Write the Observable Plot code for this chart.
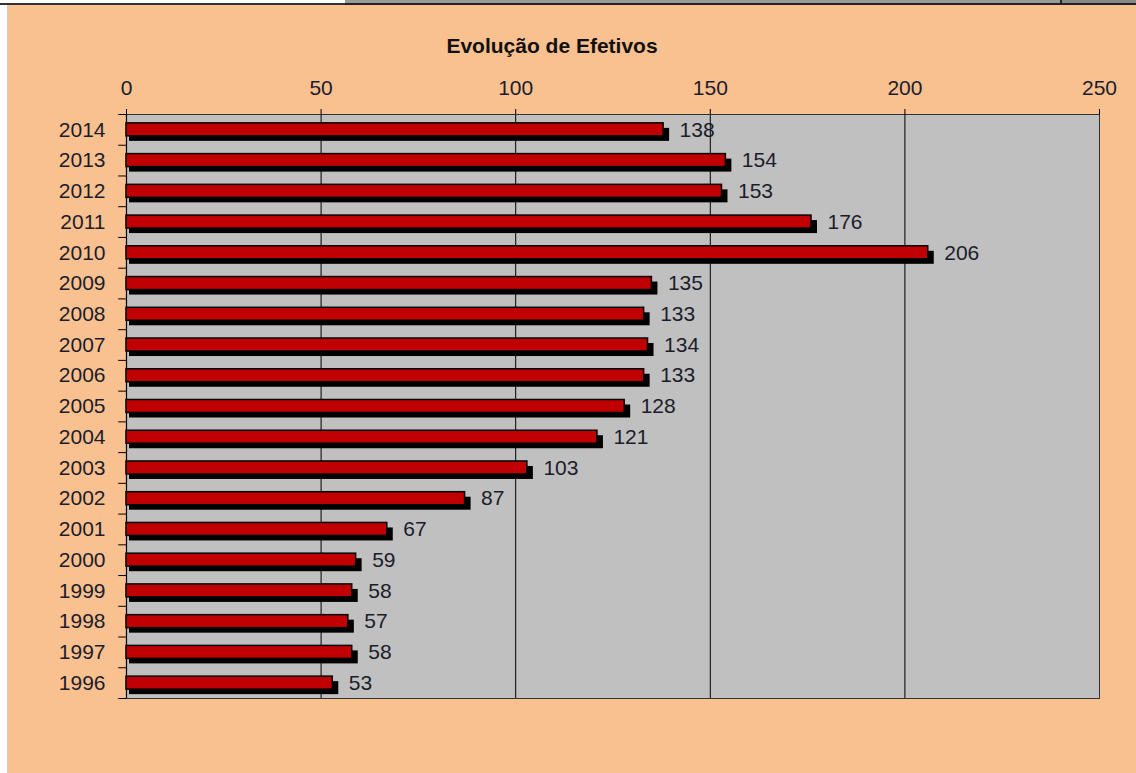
<!DOCTYPE html>
<html>
<head>
<meta charset="utf-8">
<script src="https://cdn.jsdelivr.net/npm/d3@7"></script>
<script src="https://cdn.jsdelivr.net/npm/@observablehq/plot@0.6"></script>
<style>
  html, body { margin: 0; padding: 0; background: #ffffff; width: 1136px; height: 773px; overflow: hidden; font-family: "Liberation Sans", Arial, sans-serif; }
  #strip-white { position: absolute; left: 0; top: 0; width: 345px; height: 5px; background: #fff; border-bottom: 2px solid #333; box-sizing: border-box; }
  #strip-gray { position: absolute; left: 345px; top: 0; width: 715px; height: 5px; background: #999; border-bottom: 2px solid #222; box-sizing: border-box; }
  #strip-dark { position: absolute; left: 1060px; top: 0; width: 76px; height: 5px; background: #888; border-bottom: 2px solid #222; border-left: 2px solid #222; box-sizing: border-box; }
  #edge { position: absolute; left: 0; top: 5px; width: 8px; height: 768px; background: #fff; border-right: 1px solid #ccc; box-sizing: border-box; }
  #panel { position: absolute; left: 8px; top: 5px; width: 1128px; height: 768px; background: #F9C090; }
  #title { position: absolute; left: 0; width: 1104px; top: 34px; text-align: center; font-weight: bold; font-size: 21px; color: #111; }
  #chart { position: absolute; left: 0; top: 60px; }
  #chart svg { display: block; }
</style>
</head>
<body>
<div id="strip-white"></div>
<div id="strip-gray"></div>
<div id="strip-dark"></div>
<div id="edge"></div>
<div id="panel"></div>
<div id="title">Evolução de Efetivos</div>
<div id="chart"></div>
<script>
const years = ["2014","2013","2012","2011","2010","2009","2008","2007","2006","2005","2004","2003","2002","2001","2000","1999","1998","1997","1996"];
const values = [138,154,153,176,206,135,133,134,133,128,121,103,87,67,59,58,57,58,53];
const xTicks = [0,50,100,150,200,250];
const gridValues = [50,100,150,200];

const data = years.map((y, i) => ({year: y, value: values[i]}));

const W = 1136, H = 713, mt = 54, mb = 75, ml = 126, mr = 37;
const bw = (H - mt - mb) / years.length;
const barInset = (bw - 13) / 2;
const fontSize = 21;

const chart = Plot.plot({
  width: W,
  height: H,
  marginTop: mt,
  marginBottom: mb,
  marginLeft: ml,
  marginRight: mr,
  style: { background: "transparent", fontFamily: "'Liberation Sans', Arial, sans-serif", color: "#1c1c2a" },
  x: { domain: [0, 250], label: null },
  y: { type: "band", domain: years, padding: 0, round: false, label: null },
  marks: [
    Plot.frame({ fill: "#C0C0C0", stroke: null }),
    Plot.ruleX(gridValues, { x: d => d, stroke: "#000", strokeWidth: 1 }),
    Plot.frame({ stroke: "#333", strokeWidth: 1 }),
    Plot.ruleX([0], { stroke: "#000", strokeWidth: 1.2 }),
    Plot.ruleY(years, { y: d => d, x1: -2, x2: 0, dy: -bw / 2, stroke: "#000", strokeWidth: 1 }),
    Plot.ruleY([years[years.length - 1]], { y: d => d, x1: -2, x2: 0, dy: bw / 2, stroke: "#000", strokeWidth: 1 }),
    Plot.barX(data, { x: "value", y: "year", fill: "#000", insetTop: barInset, insetBottom: barInset, insetLeft: -3, dx: 6, dy: 5 }),
    Plot.barX(data, { x: "value", y: "year", fill: "#C00000", stroke: "#000", strokeWidth: 1.5, insetTop: barInset, insetBottom: barInset }),
    Plot.text(data, { x: "value", y: "year", text: d => String(d.value), dx: 16, textAnchor: "start", fontSize: fontSize, fill: "#1c1c2a" }),
    Plot.axisX(xTicks, { anchor: "top", label: null, tickSize: 6, tickPadding: 14, fontSize: fontSize, stroke: "#000", tickFormat: d => String(d) }),
    Plot.axisY({ anchor: "left", label: null, tickSize: 0, tickPadding: 21, fontSize: fontSize, tickFormat: d => d })
  ]
});
document.getElementById("chart").appendChild(chart);
</script>
</body>
</html>
